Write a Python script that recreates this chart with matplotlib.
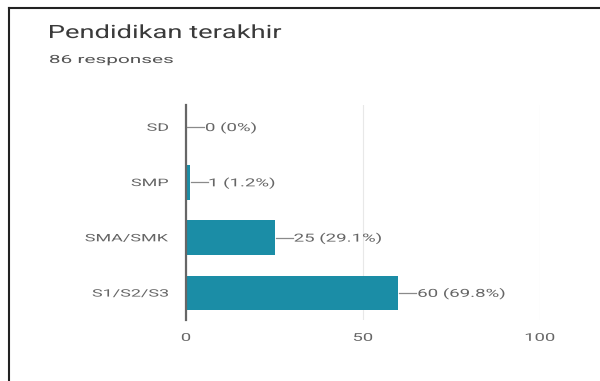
import matplotlib
matplotlib.use("Agg")
import matplotlib.pyplot as plt
from matplotlib.lines import Line2D
from matplotlib.textpath import TextPath
from matplotlib.patches import PathPatch
from matplotlib.font_manager import FontProperties
from matplotlib.transforms import Affine2D, IdentityTransform

# data
categories = ["SD", "SMP", "SMA/SMK", "S1/S2/S3"]
counts = [0, 1, 25, 60]
percents = ["0%", "1.2%", "29.1%", "69.8%"]
total = 86
xticks = [0, 50, 100]

bar_color = '#1b8da6'
text_color = '#666666'
W, H = 600, 381

fig = plt.figure(figsize=(6, 3.81), dpi=100)
ax = fig.add_axes([186 / W, 1 - 320 / H, 354 / W, 215 / H])

ypos = list(range(len(categories)))
ax.barh(ypos, counts, height=0.63, color=bar_color, zorder=3)

ax.set_xlim(0, 100)
ax.set_ylim(3.49, -0.4)
ax.set_xticks(xticks)
ax.set_yticks(ypos)
ax.set_xticklabels([])
ax.set_yticklabels([])
ax.tick_params(length=0)
ax.grid(axis='x', color='#e8e8e8', lw=0.8, zorder=0)
for s in ['top', 'right', 'bottom']:
    ax.spines[s].set_visible(False)
ax.spines['left'].set_color('#666666')
ax.spines['left'].set_linewidth(1.6)
ax.spines['left'].set_zorder(5)

k = fig.dpi / 72.0
prop = FontProperties(family='Roboto')


def wide_text(px, py, s, size, sx, color, ha='left'):
    # text drawn as a path, stretched sideways like the screenshot
    tp = TextPath((0, 0), s, size=size, prop=prop)
    bb = tp.get_extents()
    if ha == 'left':
        ox = bb.x0
    elif ha == 'right':
        ox = bb.x1
    else:
        ox = (bb.x0 + bb.x1) / 2
    oy = 0.711 * size / 2
    t = Affine2D().translate(-ox, -oy).scale(k * sx, k).translate(px, H - py)
    fig.add_artist(PathPatch(tp, transform=t, fc=color, ec='none', lw=0))


def to_px(x, y):
    dx, dy = ax.transData.transform((x, y))
    return dx, H - dy


# category labels
for y, name in zip(ypos, categories):
    px, py = to_px(0, y)
    wide_text(px - 18, py, name, 7.4, 1.75, text_color, ha='right')

# x tick labels
for t in xticks:
    px, py = to_px(t, 3.49)
    wide_text(px, py + 17, str(t), 7.8, 1.7, text_color, ha='center')

# value labels with a short connector line
for y, c, p in zip(ypos, counts, percents):
    px, py = to_px(c, y)
    fig.add_artist(Line2D([px + 1, px + 18], [H - py, H - py], color='#8a8a8a',
                          lw=0.9, transform=IdentityTransform()))
    wide_text(px + 20, py, f"{c} ({p})", 8.0, 1.68, text_color)

# title and subtitle
wide_text(50, 31.5, "Pendidikan terakhir", 13.2, 1.49, '#3a3a3a')
wide_text(50, 59, f"{total} responses", 8.1, 1.85, '#555555')

# frame lines on top and left of the screenshot
fig.add_artist(Line2D([9 / W, 1], [1 - 8 / H, 1 - 8 / H], color='#222222', lw=1.5))
fig.add_artist(Line2D([9 / W, 9 / W], [0, 1 - 8 / H], color='#222222', lw=1.5))

fig.savefig("out.png", dpi=100)
